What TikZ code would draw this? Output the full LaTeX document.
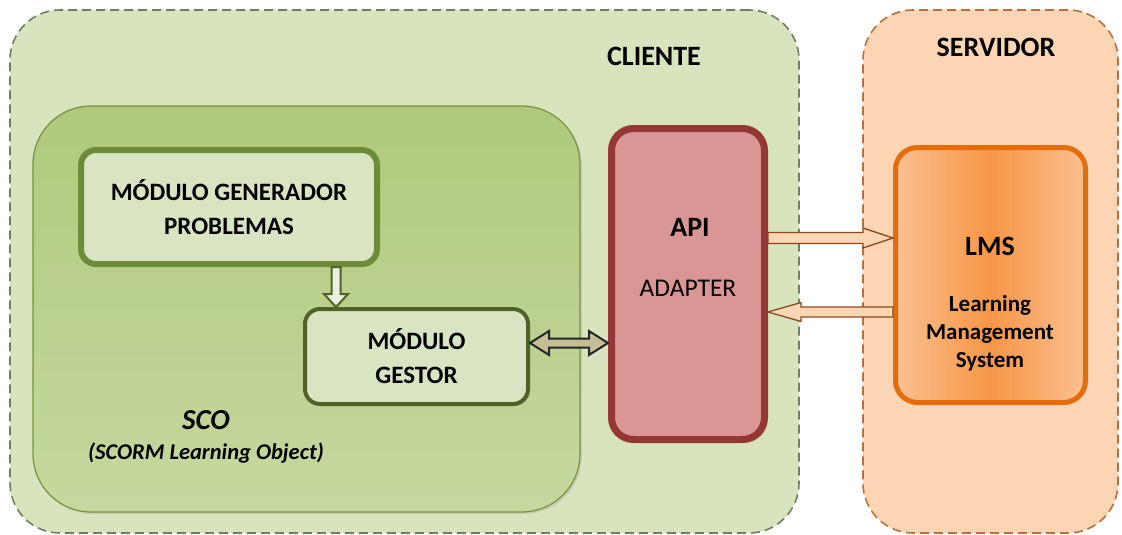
\documentclass[tikz,border=0pt]{standalone}
\usepackage{fontspec}
\setmainfont{Carlito}
\usetikzlibrary{calc,shadows}
\definecolor{cliFill}{HTML}{D7E4BD}
\definecolor{cliLine}{HTML}{6F7F63}
\definecolor{srvFill}{HTML}{FCD5B5}
\definecolor{srvLine}{HTML}{B8703E}
\definecolor{scoTop}{HTML}{B0C97C}
\definecolor{scoMid}{HTML}{95B652}
\definecolor{scoBot}{HTML}{C6D8A0}
\definecolor{scoLine}{HTML}{77933C}
\definecolor{modFill}{HTML}{D9E5C2}
\definecolor{genLine}{HTML}{6E8B3A}
\definecolor{gesLine}{HTML}{4F6228}
\definecolor{apiFill}{HTML}{D99694}
\definecolor{apiLine}{HTML}{953735}
\definecolor{lmsEdge}{HTML}{FAC090}
\definecolor{lmsMid}{HTML}{F79646}
\definecolor{lmsLine}{HTML}{E46C0A}
\definecolor{arrLine}{HTML}{8A4A1C}
\definecolor{dblFill}{HTML}{C4BD97}
\definecolor{downFill}{HTML}{EBF1DE}
\newcommand\fatarrow[6][]{%
  \path ($(#3)!#6!(#2)$) coordinate (fab);
  \draw[#1] ($(#2)!#4!90:(#3)$) -- ($(fab)!#4!90:(#3)$) -- ($(fab)!#5!90:(#3)$) -- (#3)
    -- ($(fab)!#5!-90:(#3)$) -- ($(fab)!#4!-90:(#3)$) -- ($(#2)!#4!-90:(#3)$) -- cycle;
}
\newcommand\dblarrow[6][]{%
  \path ($(#2)!#6!(#3)$) coordinate (dba) ($(#3)!#6!(#2)$) coordinate (dbb);
  \draw[#1] (#2) -- ($(dba)!#5!90:(#3)$) -- ($(dba)!#4!90:(#3)$) -- ($(dbb)!#4!90:(#3)$)
    -- ($(dbb)!#5!90:(#3)$) -- (#3) -- ($(dbb)!#5!-90:(#3)$) -- ($(dbb)!#4!-90:(#3)$)
    -- ($(dba)!#4!-90:(#3)$) -- ($(dba)!#5!-90:(#3)$) -- cycle;
}
\tikzset{
  zone/.style={draw, dash pattern=on 9pt off 5pt, line width=1.6pt, rounded corners=50pt, inner sep=0pt},
  lbl/.style={font=\fontsize{28}{34}\selectfont\bfseries, align=center, inner sep=0pt},
  modbox/.style={fill=modFill, rounded corners=15pt, inner sep=0pt, align=center,
    font=\fontsize{25}{34}\selectfont\bfseries,
    drop shadow={opacity=0.25, shadow xshift=2pt, shadow yshift=-2pt}},
  sidearrow/.style={fill=srvFill, draw=arrLine, line width=1.3pt, line join=miter},
  gatearrow/.style={fill=dblFill, draw=black!85, line width=2pt, line join=miter},
  downarrow/.style={fill=downFill, draw=gesLine, line width=2pt, line join=miter},
}
\begin{document}
\begin{tikzpicture}[x=1pt, y=-1pt]
\useasboundingbox (0,0) rectangle (1122,535);
% zones
\node[zone, fill=cliFill, draw=cliLine, minimum width=789pt, minimum height=523pt] (cliente) at (404.5,271.5) {};
\node[zone, fill=srvFill, draw=srvLine, minimum width=255pt, minimum height=523pt] (servidor) at (990.5,271.5) {};
\node[lbl] (clientetxt) at (654,56) {CLIENTE};
\node[lbl] (servidortxt) at (996,47) {SERVIDOR};
% SCO
\node[draw=scoLine, line width=1.2pt, top color=scoTop, middle color=scoMid, bottom color=scoBot,
  rounded corners=58pt, minimum width=547pt, minimum height=406pt, inner sep=0pt,
  drop shadow={opacity=0.2, shadow xshift=2pt, shadow yshift=-2pt}] (sco) at (306.5,309) {};
\node[font=\fontsize{29}{32}\selectfont\bfseries\itshape, inner sep=0pt] (scotxt) at (206,420) {SCO};
\node[font=\fontsize{22.5}{28}\selectfont\bfseries\itshape, inner sep=0pt] (scosub) at (206,453) {(SCORM Learning Object)};
% modules
\node[modbox, draw=genLine, line width=6pt, minimum width=296pt, minimum height=114pt] (gen) at (229,207)
  {M\'ODULO GENERADOR\\PROBLEMAS};
\node[modbox, draw=gesLine, line width=4pt, minimum width=223pt, minimum height=95pt] (gestor) at (416.5,356.5)
  {M\'ODULO\\GESTOR};
% API
\node[draw=apiLine, fill=apiFill, line width=7pt, rounded corners=22pt, minimum width=153pt, minimum height=311pt,
  inner sep=0pt, drop shadow={opacity=0.35, shadow xshift=3pt, shadow yshift=-3pt}] (api) at (688,284) {};
\node[lbl] (apitxt) at (690,227) {API};
\node[font=\fontsize{25.5}{30}\selectfont, inner sep=0pt] (adapter) at (688,288) {ADAPTER};
% LMS
\node[draw=lmsLine, left color=lmsEdge, right color=lmsEdge, middle color=lmsMid, line width=5pt,
  rounded corners=22pt, minimum width=190pt, minimum height=255pt, inner sep=0pt,
  drop shadow={opacity=0.25, shadow xshift=2pt, shadow yshift=-2pt}] (lms) at (990.5,275) {};
\node[lbl] (lmstxt) at (990,246) {LMS};
\node[font=\fontsize{23}{28}\selectfont\bfseries, align=center, inner sep=0pt] (lmsname) at (990,333)
  {Learning\\Management\\System};
% connectors
\coordinate (r1s) at (api.east |- 0,238);
\coordinate (r1e) at (lms.west |- 0,238);
\coordinate (r2s) at (lms.west |- 0,312);
\coordinate (r2e) at (api.east |- 0,312);
\coordinate (gs) at (gestor.east |- 0,343);
\coordinate (ga) at (api.west |- 0,343);
\coordinate (ds) at (gen.south -| 336,0);
\coordinate (de) at (gestor.north -| 336,0);
\fatarrow[sidearrow]{r1s}{r1e}{5.5pt}{10pt}{30pt}
\fatarrow[sidearrow]{r2s}{r2e}{5pt}{9.5pt}{33pt}
\dblarrow[gatearrow]{gs}{ga}{4.5pt}{12pt}{19pt}
\fatarrow[downarrow]{ds}{de}{4.5pt}{12pt}{13pt}
\end{tikzpicture}
\end{document}
